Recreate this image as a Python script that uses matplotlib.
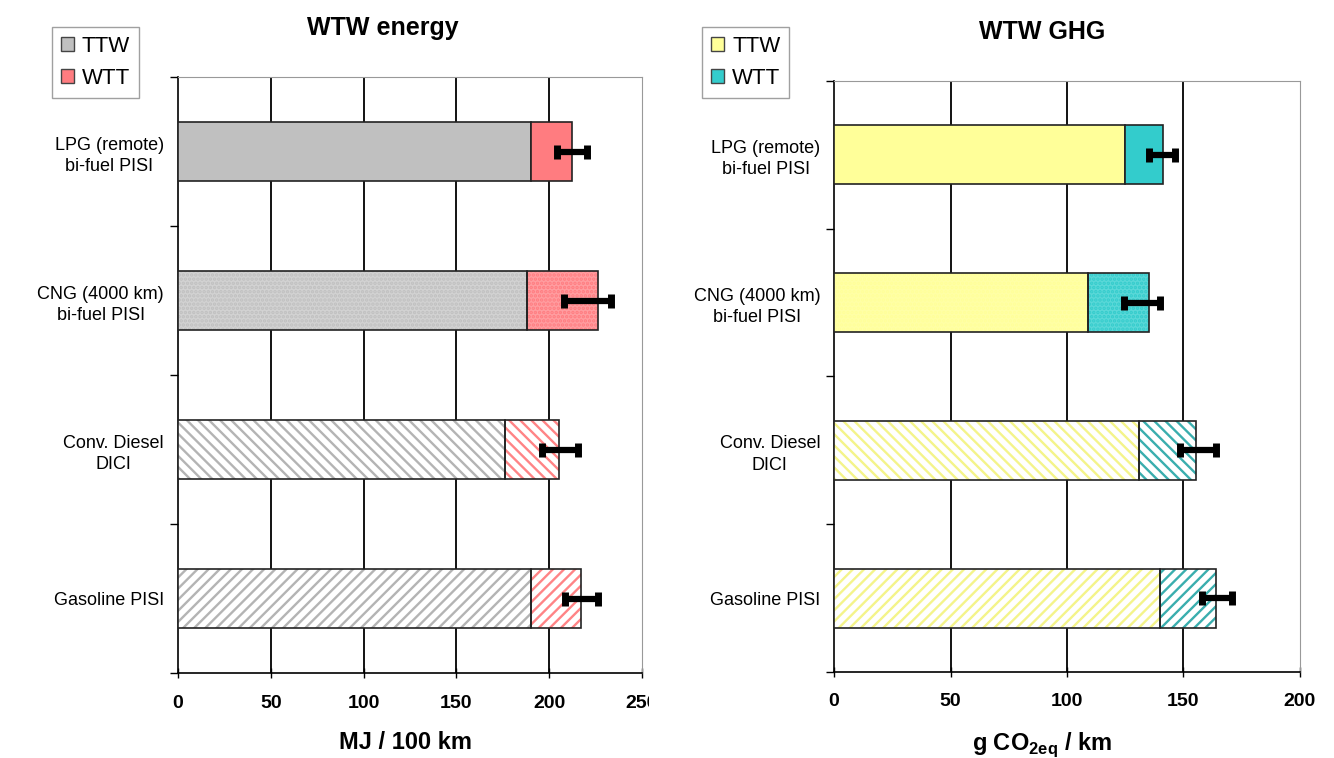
import matplotlib
matplotlib.use("Agg")
import matplotlib.pyplot as plt
import numpy as np
from matplotlib.patches import Patch
from matplotlib.transforms import Bbox, TransformedBbox

plt.rcParams['font.family'] = ['Liberation Sans', 'DejaVu Sans']
plt.rcParams['mathtext.fontset'] = 'custom'
plt.rcParams['mathtext.rm'] = 'Liberation Sans'
plt.rcParams['mathtext.bf'] = 'Liberation Sans:bold'
plt.rcParams['hatch.linewidth'] = 1.7

# ---- data ----
categories = ["LPG (remote)\nbi-fuel PISI", "CNG (4000 km)\nbi-fuel PISI",
              "Conv. Diesel\nDICI", "Gasoline PISI"]
series = ["TTW", "WTT"]

energy_ttw = [190, 188, 176, 190]
energy_total = [212, 226, 205, 217]
energy_err_low = [204, 208, 196, 208.5]
energy_err_high = [220.5, 233.5, 215.5, 226]

ghg_ttw = [125, 109, 131, 140]
ghg_total = [141, 135, 155.5, 164]
ghg_err_low = [135, 124.5, 148.5, 158]
ghg_err_high = [146.5, 140, 164, 171]

energy_ticks = [0, 50, 100, 150, 200, 250]
ghg_ticks = [0, 50, 100, 150, 200]

styles = ["solid", "dots", "back", "fwd"]

fig = plt.figure(figsize=(13.34, 7.58), dpi=100)
ax1 = fig.add_axes([0.1334, 0.1121, 0.4813 - 0.1334, 0.8984 - 0.1121])
ax2 = fig.add_axes([0.6252, 0.1135, 0.9745 - 0.6252, 0.8931 - 0.1135])


def draw_segment(ax, y, left, width, colors, style):
    solid, light, stripe = colors
    h = 0.4
    if style == "solid":
        ax.barh(y, width, left=left, height=h, color=solid, edgecolor='#222222',
                linewidth=1.2, zorder=3)
        return
    if style == "dots":
        ax.barh(y, width, left=left, height=h, color=light, edgecolor=solid, linewidth=0,
                hatch='....', zorder=3)
    else:
        hatch = '\\\\\\' if style == "back" else '///'
        ax.barh(y, width, left=left, height=h, color='white', edgecolor=stripe, linewidth=0,
                hatch=hatch, zorder=3)
    ax.barh(y, width, left=left, height=h, fill=False, edgecolor='#222222', linewidth=1.2, zorder=4)


def draw_panel(ax, ttw, total, lo, hi, ticks, c_ttw, c_wtt, xlabel, title, title_x, label_x):
    y = np.arange(len(categories))
    for i in range(len(categories)):
        draw_segment(ax, y[i], 0, ttw[i], c_ttw, styles[i])
        draw_segment(ax, y[i], ttw[i], total[i] - ttw[i], c_wtt, styles[i])
    lo = np.array(lo); hi = np.array(hi)
    mid = (lo + hi) / 2
    ax.errorbar(mid, y, xerr=(hi - lo) / 2, fmt='none', ecolor='black', elinewidth=4.5,
                capsize=5, capthick=5, zorder=6)
    ax.set_xlim(ticks[0], ticks[-1])
    ax.set_ylim(len(categories) - 0.5, -0.5)
    ax.set_xticks(ticks)
    ax.set_xticklabels([str(t) for t in ticks], fontsize=14, fontweight='bold')
    ax.set_yticks(y)
    ax.set_yticklabels(categories, fontsize=13, multialignment='center', linespacing=1.35)
    ax.set_yticks(np.arange(-0.5, len(categories)), minor=True)
    ax.tick_params(axis='y', which='major', length=0, pad=10)
    ax.tick_params(axis='y', which='minor', length=6, width=1.0, direction='out')
    ax.tick_params(axis='x', which='major', length=7, width=1.0, direction='inout', pad=12)
    for t in ticks[1:-1]:
        ax.axvline(t, color='black', linewidth=1.3, zorder=1)
    for s in ('left', 'bottom'):
        ax.spines[s].set_color('black')
        ax.spines[s].set_linewidth(1.2)
    for s in ('top', 'right'):
        ax.spines[s].set_color('#999999')
    ax.set_xlabel(xlabel, fontsize=17, fontweight='bold')
    ax.xaxis.set_label_coords(label_x, -0.098)
    ax.set_title(title, fontsize=18, fontweight='bold', pad=30, x=title_x)


draw_panel(ax1, energy_ttw, energy_total, energy_err_low, energy_err_high, energy_ticks,
           ('#c0c0c0', '#d2d2d2', '#b4b4b4'), ('#ff7c80', '#ff9da0', '#ff8486'),
           'MJ / 100 km', 'WTW energy', 0.442, 0.49)
draw_panel(ax2, ghg_ttw, ghg_total, ghg_err_low, ghg_err_high, ghg_ticks,
           ('#ffff99', '#ffffa6', '#f4f48a'), ('#33cccc', '#5ad8d8', '#3aaeae'),
           r'g CO$_{\mathbf{2eq}}$ / km', 'WTW GHG', 0.446, 0.446)

# clip the last tick label of left panel like the reference
fig.canvas.draw()
clip = TransformedBbox(Bbox([[0, 0], [0.4865, 1]]), fig.transFigure)
for lab in ax1.get_xticklabels():
    lab.set_clip_box(clip)
    lab.set_clip_on(True)

leg_kw = dict(fontsize=16, frameon=True, fancybox=False, edgecolor='#888888',
              handlelength=0.6, handleheight=0.6, handletextpad=0.35, borderpad=0.4,
              labelspacing=0.5, borderaxespad=0)
h1 = [Patch(facecolor='#c0c0c0', edgecolor='#444444', label='TTW'),
      Patch(facecolor='#ff7c80', edgecolor='#444444', label='WTT')]
fig.legend(handles=h1, loc='upper left', bbox_to_anchor=(52 / 1334, 1 - 27 / 758), **leg_kw)
h2 = [Patch(facecolor='#ffff99', edgecolor='#444444', label='TTW'),
      Patch(facecolor='#33cccc', edgecolor='#444444', label='WTT')]
fig.legend(handles=h2, loc='upper left', bbox_to_anchor=(702 / 1334, 1 - 27 / 758), **leg_kw)

fig.savefig('out.png', dpi=100)
